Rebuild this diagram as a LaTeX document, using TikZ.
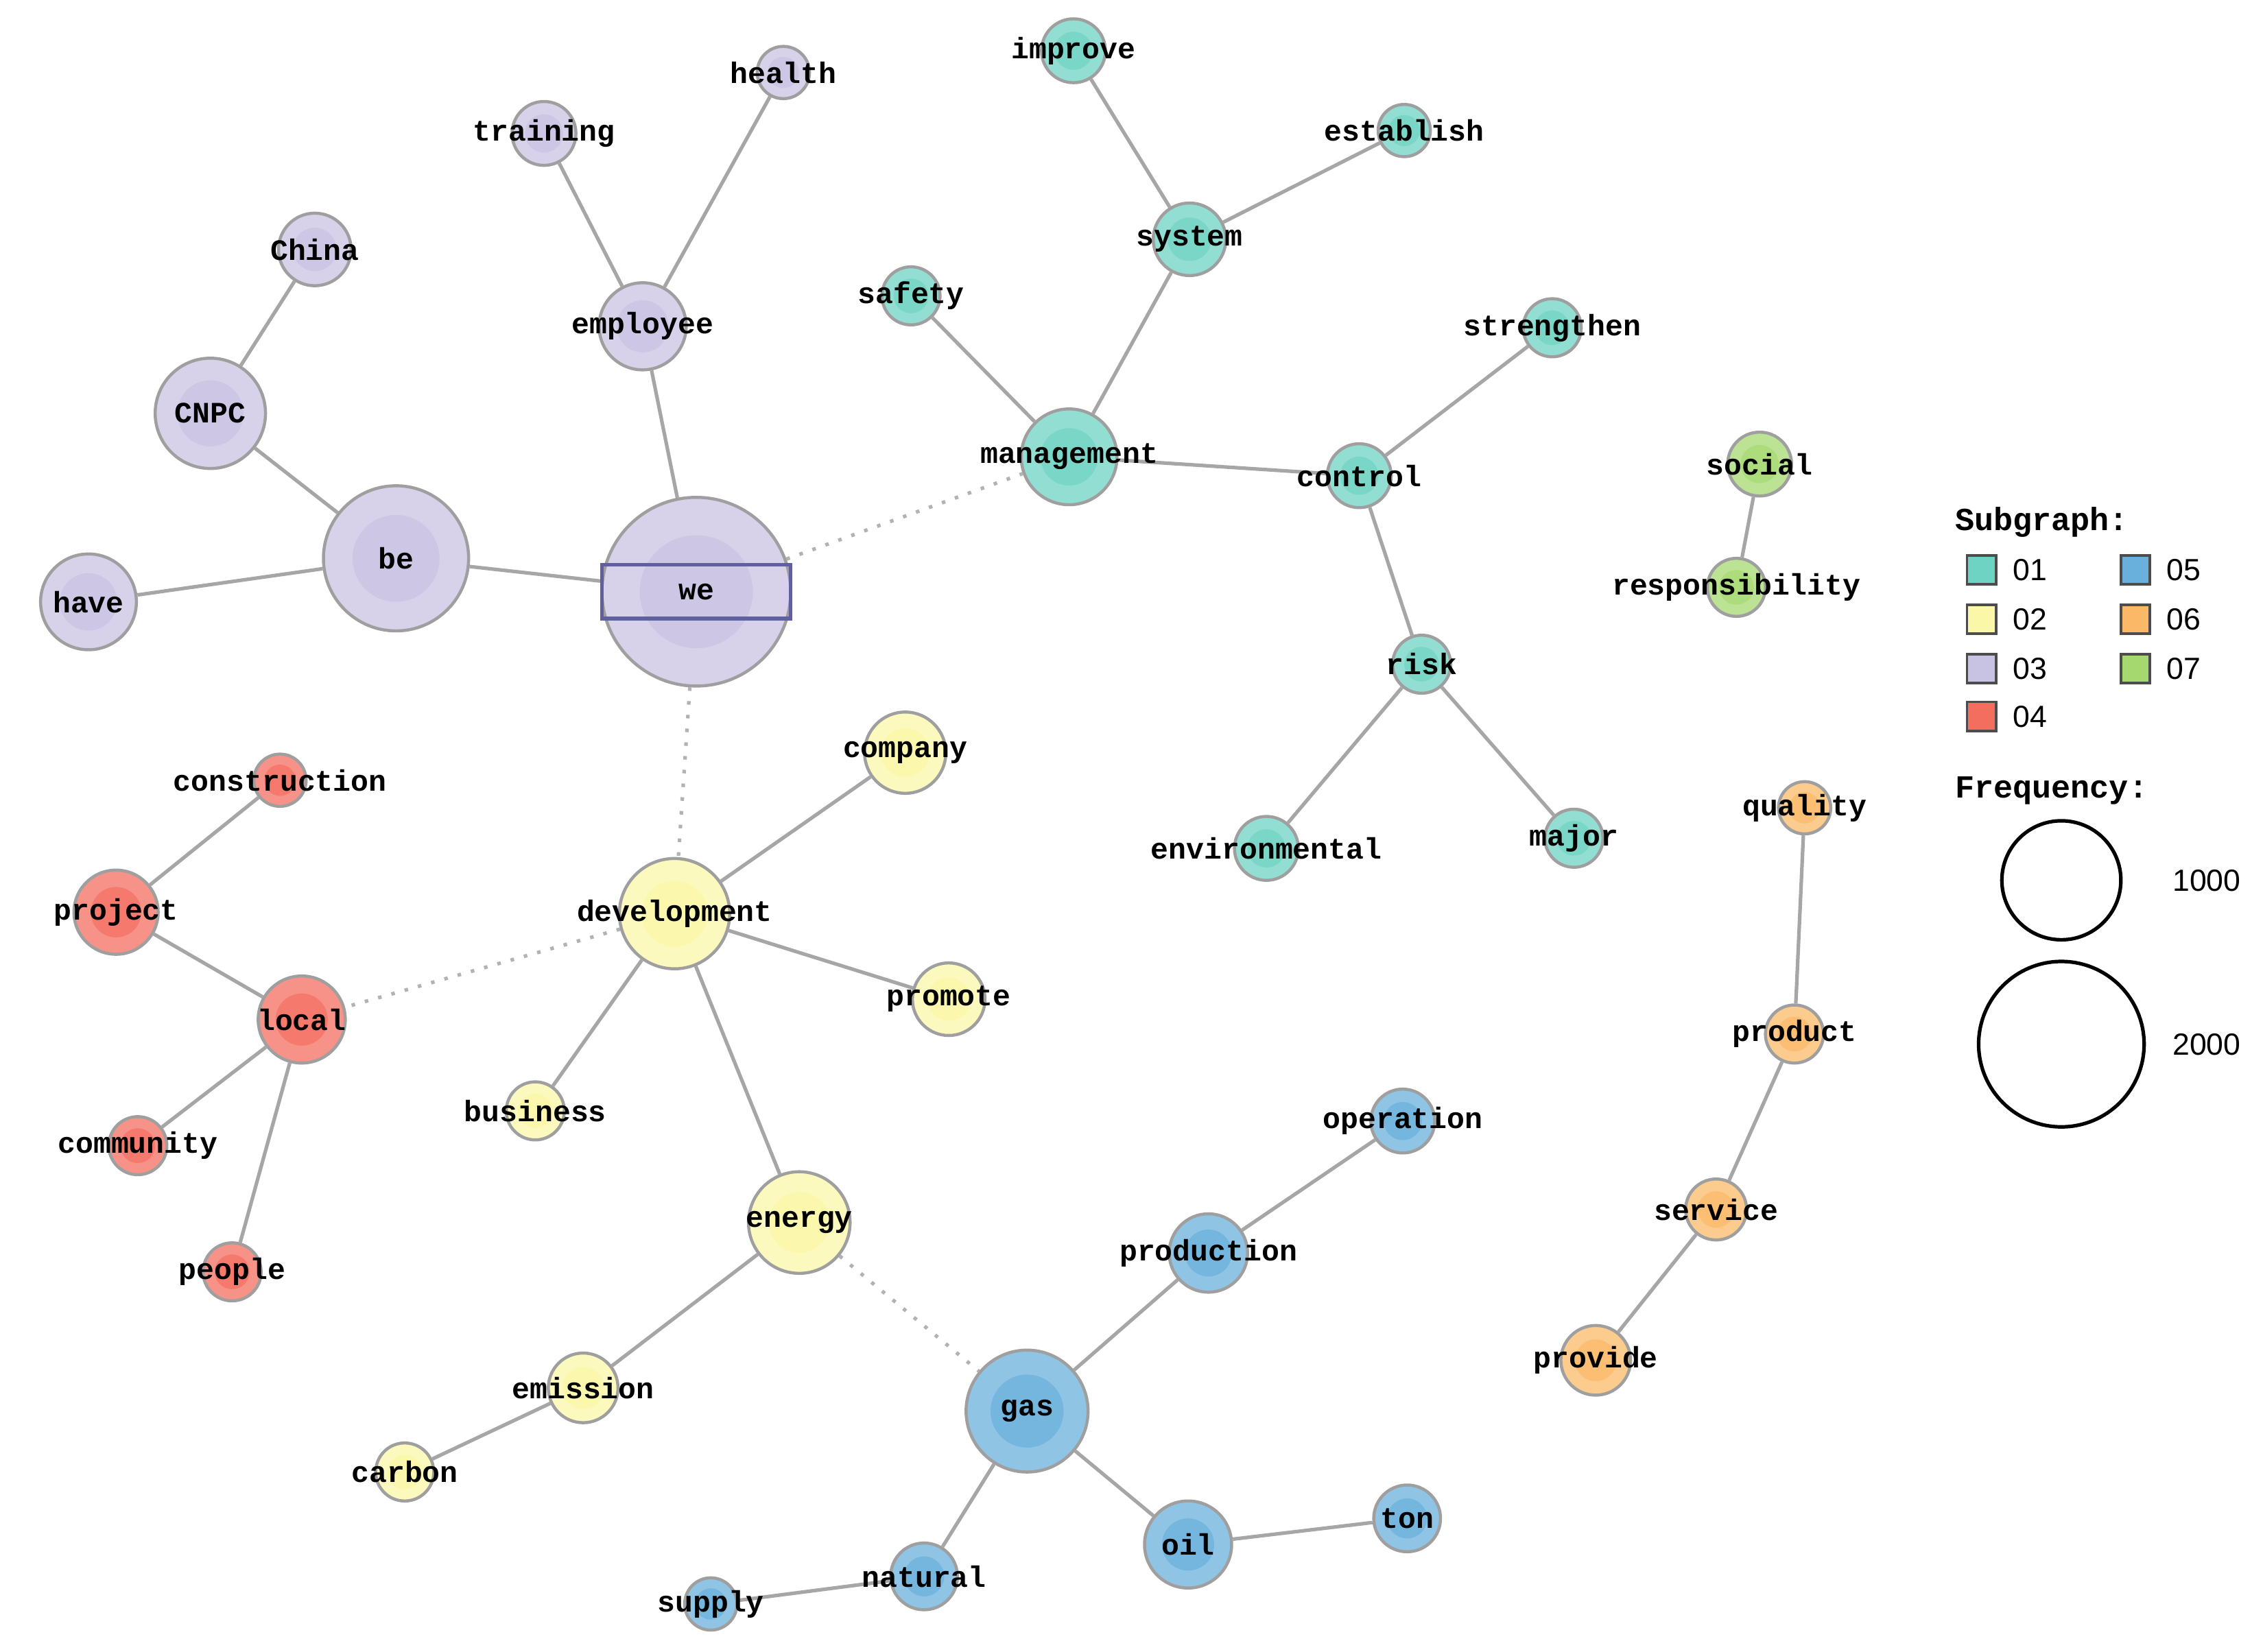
\documentclass[tikz,border=0pt]{standalone}
\usepackage{fontspec}
\setmainfont{Liberation Sans}
\newfontfamily\monof{Liberation Mono}
\usetikzlibrary{backgrounds}
\definecolor{c1}{HTML}{6FD3C3}
\definecolor{c2}{HTML}{FBF7A8}
\definecolor{c3}{HTML}{C9C3E3}
\definecolor{c4}{HTML}{F46E60}
\definecolor{c5}{HTML}{6AB0DC}
\definecolor{c6}{HTML}{FBB968}
\definecolor{c7}{HTML}{A5D970}
\tikzset{
 v/.style={circle, draw=gray!75, line width=0.6pt, fill=#1, fill opacity=0.75, inner sep=0pt},
 lbl/.style={font=\monof\fontsize{5.8}{7}\selectfont\bfseries, inner sep=0pt, text=black},
 e/.style={draw=gray!70, line width=0.7pt},
 d/.style={draw=gray!60, line width=0.7pt, dotted},
 sq/.style={draw=gray!60!black, line width=0.5pt, fill=#1, minimum size=0.2cm, inner sep=0pt},
 leg/.style={font=\fontsize{6}{7}\selectfont, inner sep=0pt, anchor=west},
}
\newcommand{\vtx}[6]{%
 \node[v=#5, minimum size=#4*0.02cm] (#1) at (#2,#3) {};
 \fill[#5, fill opacity=0.7] (#1.center) circle (#4*0.006cm);
}
\begin{document}
\begin{tikzpicture}[x=0.01cm,y=-0.01cm]
\useasboundingbox (0,0) rectangle (1560,1139);
\vtx{improve}{740}{35}{22}{c1}{}
\vtx{establish}{968}{90}{18}{c1}{}
\vtx{system}{820}{165}{25}{c1}{}
\vtx{safety}{628}{204}{20}{c1}{}
\vtx{strengthen}{1070}{226}{20}{c1}{}
\vtx{management}{737}{315}{33}{c1}{}
\vtx{control}{937}{328}{22}{c1}{}
\vtx{risk}{980}{458}{20}{c1}{}
\vtx{environmental}{873}{585}{22}{c1}{}
\vtx{major}{1085}{578}{20}{c1}{}
\vtx{social}{1213}{320}{22}{c7}{}
\vtx{responsibility}{1197}{405}{20}{c7}{}
\vtx{health}{540}{50}{18}{c3}{}
\vtx{training}{375}{92}{22}{c3}{}
\vtx{China}{217}{172}{25}{c3}{}
\vtx{employee}{443}{225}{30}{c3}{}
\vtx{CNPC}{145}{285}{38}{c3}{}
\vtx{be}{273}{385}{50}{c3}{}
\vtx{have}{61}{415}{33}{c3}{}
\vtx{we}{480}{408}{65}{c3}{}
\vtx{construction}{193}{538}{18}{c4}{}
\vtx{project}{80}{629}{29}{c4}{}
\vtx{local}{208}{703}{30}{c4}{}
\vtx{community}{95}{790}{20}{c4}{}
\vtx{people}{160}{877}{20}{c4}{}
\vtx{company}{624}{519}{28}{c2}{}
\vtx{development}{465}{630}{38}{c2}{}
\vtx{promote}{654}{689}{25}{c2}{}
\vtx{business}{369}{766}{20}{c2}{}
\vtx{energy}{551}{843}{35}{c2}{}
\vtx{emission}{402}{957}{24}{c2}{}
\vtx{carbon}{279}{1015}{20}{c2}{}
\vtx{operation}{967}{773}{22}{c5}{}
\vtx{production}{833}{864}{27}{c5}{}
\vtx{gas}{708}{973}{42}{c5}{}
\vtx{oil}{819}{1065}{30}{c5}{}
\vtx{ton}{970}{1047}{23}{c5}{}
\vtx{natural}{637}{1087}{23}{c5}{}
\vtx{supply}{490}{1106}{18}{c5}{}
\vtx{quality}{1244}{557}{18}{c6}{}
\vtx{product}{1237}{713}{20}{c6}{}
\vtx{service}{1183}{834}{21}{c6}{}
\vtx{provide}{1100}{938}{24}{c6}{}
\begin{scope}[on background layer]
\foreach \a/\b in {improve/system,establish/system,system/management,safety/management,management/control,strengthen/control,control/risk,risk/environmental,risk/major,social/responsibility,health/employee,training/employee,employee/we,China/CNPC,CNPC/be,have/be,be/we,construction/project,project/local,local/community,local/people,company/development,development/promote,development/business,development/energy,energy/emission,emission/carbon,operation/production,production/gas,gas/oil,oil/ton,gas/natural,natural/supply,quality/product,product/service,service/provide}
 \draw[e] (\a) -- (\b);
\foreach \a/\b in {we/management,we/development,development/local,energy/gas}
 \draw[d] (\a) -- (\b);
\end{scope}
\node[draw=blue!25!gray, line width=0.7pt, minimum width=1.3cm, minimum height=0.37cm, inner sep=0pt] (sel) at (we) {};
\foreach \n in {improve,establish,system,safety,strengthen,management,control,risk,environmental,major,social,responsibility,health,training,China,employee,CNPC,be,have,we,construction,project,local,community,people,company,development,promote,business,energy,emission,carbon,operation,production,gas,oil,ton,natural,supply,quality,product,service,provide}
 \node[lbl] (\n-l) at (\n) {\n};
% legend
\node[lbl, anchor=west, font=\monof\fontsize{6.3}{7}\selectfont\bfseries] (subg) at (1347,360) {Subgraph:};
\node[sq=c1] (s1) at (1366,393) {}; \node[leg] (t1) at (1387,393) {01};
\node[sq=c2] (s2) at (1366,427) {}; \node[leg] (t2) at (1387,427) {02};
\node[sq=c3] (s3) at (1366,461) {}; \node[leg] (t3) at (1387,461) {03};
\node[sq=c4] (s4) at (1366,494) {}; \node[leg] (t4) at (1387,494) {04};
\node[sq=c5] (s5) at (1472,393) {}; \node[leg] (t5) at (1493,393) {05};
\node[sq=c6] (s6) at (1472,427) {}; \node[leg] (t6) at (1493,427) {06};
\node[sq=c7] (s7) at (1472,461) {}; \node[leg] (t7) at (1493,461) {07};
\node[lbl, anchor=west, font=\monof\fontsize{6.3}{7}\selectfont\bfseries] (freq) at (1347,545) {Frequency:};
\node[circle, draw=black, line width=0.7pt, minimum size=0.82cm] (f1) at (1421,607) {};
\node[leg] (f1l) at (1497,607) {1000};
\node[circle, draw=black, line width=0.7pt, minimum size=1.14cm] (f2) at (1421,720) {};
\node[leg] (f2l) at (1497,720) {2000};
\end{tikzpicture}
\end{document}
